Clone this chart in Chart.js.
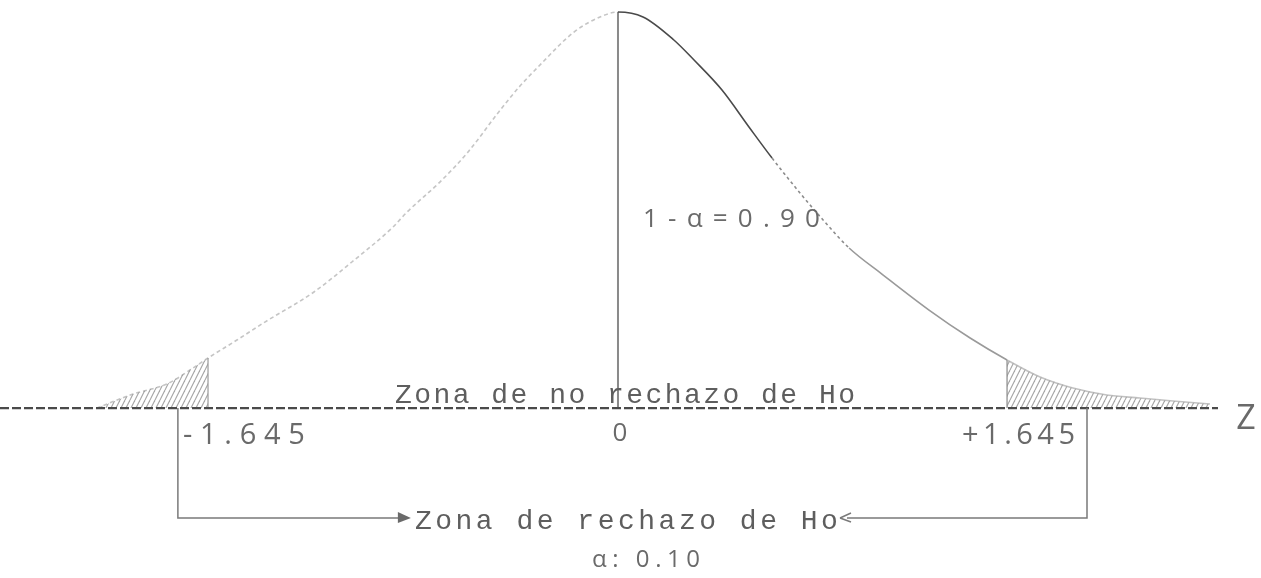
<!DOCTYPE html>
<html><head><meta charset="utf-8">
<script src="https://cdn.jsdelivr.net/npm/chart.js@4.4.1/dist/chart.umd.min.js"></script>
<style>html,body{margin:0;padding:0;background:#fff;overflow:hidden}canvas{display:block}</style>
</head><body>
<canvas id="c" width="1261" height="578"></canvas>
<script>
// ---- data (z = horizontal position, density = curve height) ----
const curveZ = [-2.144,-1.996,-1.856,-1.749,-1.687,-1.568,-1.453,-1.251,-1.095,-0.926,-0.868,-0.733,-0.617,-0.494,-0.407,-0.329,-0.181,-0.074,0,
  0.103,0.230,0.313,0.428,0.539,0.634,0.749,0.844,0.951,1.086,1.280,1.449,1.601,1.737,1.872,2.012,2.148,2.284,2.436];
const curveDensity = [0,0.0141,0.0242,0.0403,0.0504,0.0685,0.0866,0.1169,0.1471,0.1823,0.1974,0.2276,0.2579,0.2972,0.3233,0.3435,0.3787,0.3939,0.3989,
  0.3939,0.3707,0.3505,0.3203,0.2831,0.2518,0.2166,0.1894,0.1612,0.1350,0.0987,0.0705,0.0484,0.0312,0.0201,0.0131,0.0101,0.0071,0.0040];
const criticalZ = [-1.687, 1.601];          // where the ±1.645 limits are drawn
const criticalLabels = ['-1.645', '+1.645'];
const centerLabel = '0';
const bracketZ = [-1.811, 1.930];          // ends of the rejection-zone brackets
const axisEndZ = 2.469;
const axisStartZ = -2.543;
const peakDensity = 0.3989;
const axisName = 'Z';
const acceptText = 'Zona de no rechazo de Ho';
const rejectText = 'Zona de rechazo de Ho';
const confidenceText = '1-\u03b1=0.90';
const alphaText = '\u03b1: 0.10';

// ---- build ----
const curvePts = curveZ.map((z,i)=>({x:z,y:curveDensity[i]}));
const leftTail = curvePts.filter(p=>p.x<=criticalZ[0]);
const rightTail = curvePts.filter(p=>p.x>=criticalZ[1]);

function hatch(){
  const c=document.createElement('canvas'); c.width=5; c.height=10;
  const g=c.getContext('2d'); g.strokeStyle='rgba(105,105,105,0.6)'; g.lineWidth=1.1;
  for(const dx of [-5,0,5]){ g.beginPath(); g.moveTo(dx,10); g.lineTo(dx+5,0); g.stroke(); }
  return document.getElementById('c').getContext('2d').createPattern(c,'repeat');
}
const pat = hatch();

function segColor(ctx){
  const x=ctx.p0.parsed.x;
  if(x<0) return 'rgba(150,150,150,0.55)';
  if(x<0.6) return '#4a4a4a';
  if(x<0.85) return '#8c8c8c';
  if(x<criticalZ[1]) return '#9a9a9a';
  return 'rgba(170,170,170,0.7)';
}
function segDash(ctx){
  const x=ctx.p0.parsed.x;
  if(x<0) return [4,3];
  if(x>=0.6 && x<0.85) return [3,3];
  return [];
}

function fitText(g, text, x, y, width, align){
  g.letterSpacing='0px';
  const w=g.measureText(text).width;
  const n=[...text].length;
  const ls=n>1?(width-w)/(n-1):0;
  g.letterSpacing=ls+'px';
  let sx=x;
  if(align==='center') sx=x-width/2; else if(align==='right') sx=x-width;
  g.textAlign='left';
  g.fillText(text,sx,y);
  g.letterSpacing='0px';
}

const HAND='"Open Sans", "DejaVu Sans", sans-serif';
const annot = {
  id:'annot',
  afterDatasetsDraw(chart){
    const g=chart.ctx, X=chart.scales.x, Y=chart.scales.y;
    const base=Y.getPixelForValue(0);
    const cx=X.getPixelForValue(0);
    const bl=X.getPixelForValue(bracketZ[0]), br=X.getPixelForValue(bracketZ[1]);
    const by=base+110;
    g.save();
    // brackets
    g.strokeStyle='#7a7a7a'; g.lineWidth=1.5;
    g.beginPath(); g.moveTo(bl,base); g.lineTo(bl,by); g.lineTo(bl+222,by); g.stroke();
    g.beginPath(); g.moveTo(br,base); g.lineTo(br,by); g.lineTo(br-240,by); g.stroke();
    g.fillStyle='#6a6a6a';
    g.beginPath(); g.moveTo(bl+220,by-6); g.lineTo(bl+233,by); g.lineTo(bl+220,by+5); g.closePath(); g.fill();
    g.beginPath(); g.moveTo(br-247,by); g.lineTo(br-236,by-5); g.moveTo(br-247,by); g.lineTo(br-236,by+4); g.stroke();
    // handwritten labels
    g.fillStyle='#6a6a6a'; g.textBaseline='middle';
    g.font='400 29px '+HAND;
    fitText(g, criticalLabels[0], bl+5, base+28, 122, 'left');
    fitText(g, criticalLabels[1], br-12, base+28, 113, 'right');
    g.font='400 26px '+HAND;
    g.textAlign='center'; g.fillText(centerLabel, cx+2, base+26);
    g.font='400 34px '+HAND;
    g.fillText(axisName, X.getPixelForValue(axisEndZ)+28, base+11);
    g.font='400 26px '+HAND;
    fitText(g, confidenceText, cx+25, Y.getPixelForValue(0.1874)-2, 177, 'left');
    g.font='400 24px '+HAND;
    fitText(g, alphaText, cx+28, base+152, 108, 'center');
    // typewriter labels
    g.fillStyle='#5e5e5e';
    g.font='28px "Liberation Mono", "DejaVu Sans Mono", monospace';
    fitText(g, acceptText, cx+7, base-12, 460, 'center');
    fitText(g, rejectText, bl+237, by+4, 423, 'left');
    g.restore();
  }
};

new Chart(document.getElementById('c'), {
  type:'scatter',
  data:{datasets:[
    {data:leftTail, showLine:true, borderWidth:0, pointRadius:0, backgroundColor:pat, fill:'origin', order:5},
    {data:rightTail, showLine:true, borderWidth:0, pointRadius:0, backgroundColor:pat, fill:'origin', order:5},
    {data:curvePts, showLine:true, borderColor:'#888', borderWidth:1.6, pointRadius:0, cubicInterpolationMode:'monotone',
      segment:{borderColor:segColor, borderDash:segDash}, order:2},
    {data:[{x:axisStartZ,y:0},{x:axisEndZ,y:0}], showLine:true, borderColor:'#4a4a4a', borderWidth:2.2, borderDash:[9,3], pointRadius:0, order:1},
    {data:[{x:0,y:0},{x:0,y:peakDensity}], showLine:true, borderColor:'#8a8a8a', borderWidth:2, pointRadius:0, order:3},
    {data:[{x:criticalZ[0],y:0},{x:criticalZ[0],y:curveDensity[curveZ.indexOf(criticalZ[0])]}], showLine:true, borderColor:'#999', borderWidth:1.2, pointRadius:0, order:3},
    {data:[{x:criticalZ[1],y:0},{x:criticalZ[1],y:curveDensity[curveZ.indexOf(criticalZ[1])]}], showLine:true, borderColor:'#888', borderWidth:1.2, pointRadius:0, order:3}
  ]},
  options:{
    responsive:false, animation:false, devicePixelRatio:1, events:[],
    layout:{padding:0},
    plugins:{legend:{display:false}, tooltip:{enabled:false}},
    scales:{
      x:{type:'linear', min:axisStartZ, max:2.646, display:false},
      y:{type:'linear', min:-0.1712, max:0.4110, display:false}
    }
  },
  plugins:[annot]
});
</script>
</body></html>
